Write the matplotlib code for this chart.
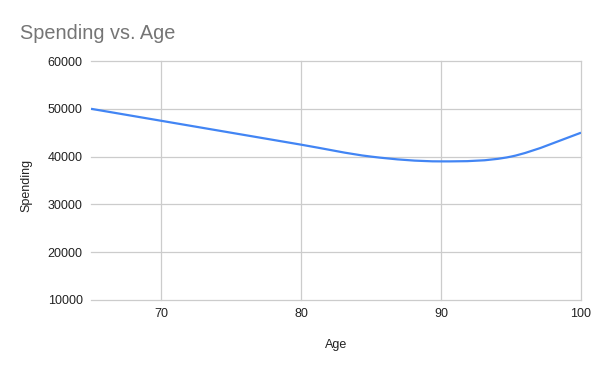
import numpy as np
import matplotlib.pyplot as plt
from matplotlib.path import Path
from matplotlib.patches import PathPatch

plt.rcParams['font.family'] = ['Liberation Sans', 'DejaVu Sans']

# data
age = [65, 70, 75, 80, 85, 90, 95, 100]
spending = [50000, 47500, 45000, 42500, 40000, 39000, 40000, 45000]
x_ticks = [70, 80, 90, 100]
y_ticks = [10000, 20000, 30000, 40000, 50000, 60000]

fig = plt.figure(figsize=(6, 3.71), dpi=100)
ax = fig.add_axes([91/600, 1 - 300/371, 490/600, 239/371])

# smooth curve through the points (cubic bezier, catmull-rom style tangents)
pts = np.column_stack([age, spending]).astype(float)
verts = [pts[0]]
codes = [Path.MOVETO]
for i in range(len(pts) - 1):
    p0 = pts[i - 1] if i > 0 else pts[i]
    p1 = pts[i]
    p2 = pts[i + 1]
    p3 = pts[i + 2] if i + 2 < len(pts) else pts[i + 1]
    c1 = p1 + (p2 - p0) / 6
    c2 = p2 - (p3 - p1) / 6
    verts += [c1, c2, p2]
    codes += [Path.CURVE4] * 3
ax.add_patch(PathPatch(Path(verts, codes), facecolor='none',
                       edgecolor='#4285f4', lw=1.6, zorder=3))

ax.set_xlim(65, 100)
ax.set_ylim(10000, 60000)
ax.set_xticks(x_ticks)
ax.set_yticks(y_ticks)
ax.grid(True, color='#cccccc', lw=0.9)
for g in ax.get_xgridlines() + ax.get_ygridlines():
    g.set_clip_on(False)
for s in ax.spines.values():
    s.set_visible(False)
ax.tick_params(length=0, labelsize=9, colors='#222222', pad=6)

fig.text(20/600, 1 - 39/371, 'Spending vs. Age', fontsize=14.3, color='#757575')
fig.text(336/600, 1 - 345/371, 'Age', fontsize=9, ha='center', va='center', color='#222222')
fig.text(26/600, 1 - 185/371, 'Spending', fontsize=9, rotation=90,
         ha='center', va='center', color='#222222')

fig.savefig('out.png', dpi=100)
